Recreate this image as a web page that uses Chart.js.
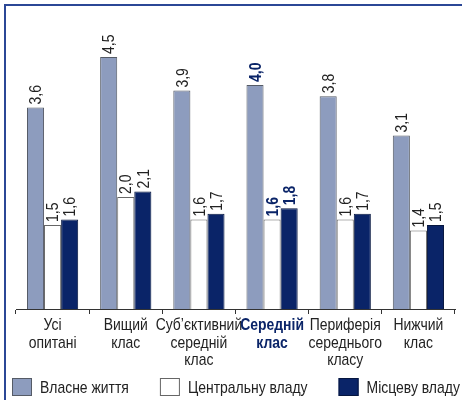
<!DOCTYPE html>
<html>
<head>
<meta charset="utf-8">
<script src="https://cdn.jsdelivr.net/npm/chart.js@4/dist/chart.umd.min.js"></script>
<style>
  html, body { margin: 0; padding: 0; background: #fff; }
</style>
</head>
<body>
<canvas id="barChart" width="462" height="400"></canvas>
<script>
// Категорії та значення
const categories = [
    ['Усі', 'опитані'],
    ['Вищий', 'клас'],
    ['Суб’єктивний', 'середній', 'клас'],
    ['Середній', 'клас'],
    ['Периферія', 'середнього', 'класу'],
    ['Нижчий', 'клас']
];
const seriesNames = ['Власне життя', 'Центральну владу', 'Місцеву владу'];
const ownLife = [3.6, 4.5, 3.9, 4.0, 3.8, 3.1];
const centralGov = [1.5, 2.0, 1.6, 1.6, 1.6, 1.4];
const localGov = [1.6, 2.1, 1.7, 1.8, 1.7, 1.5];
const highlight = 3; // "Середній клас" виділено

const FONT = "'Liberation Sans', Arial, sans-serif";
const NARROW = 0.82; // стиснення шрифту по ширині (як Helvetica Narrow)
const NAVY = '#0a2468';
const TEXT = '#222';

// рамка зверху і зліва
const framePlugin = {
    id: 'frame',
    beforeDraw(chart) {
        const c = chart.ctx;
        c.save();
        c.strokeStyle = '#2b4796';
        c.lineWidth = 2;
        c.beginPath();
        c.moveTo(5, chart.height);
        c.lineTo(5, 5);
        c.lineTo(chart.width, 5);
        c.stroke();
        c.restore();
    }
};

function narrowText(c, txt, x, y, align) {
    c.save();
    c.translate(x, y);
    c.scale(NARROW, 1);
    c.textAlign = align;
    c.fillText(txt, 0, 0);
    c.restore();
}

// підписи значень, повернуті вертикально
const valueLabels = {
    id: 'valueLabels',
    afterDatasetsDraw(chart) {
        const c = chart.ctx;
        chart.data.datasets.forEach((ds, di) => {
            chart.getDatasetMeta(di).data.forEach((bar, i) => {
                const txt = ds.data[i].toFixed(1).replace('.', ',');
                c.save();
                c.translate(bar.x + 1, bar.y - 3);
                c.rotate(-Math.PI / 2);
                c.textBaseline = 'middle';
                c.font = (i === highlight ? 'bold ' : '') + '17px ' + FONT;
                c.fillStyle = i === highlight ? NAVY : TEXT;
                narrowText(c, txt, 0, 0, 'left');
                c.restore();
            });
        });
    }
};

// підписи категорій під віссю
const categoryLabels = {
    id: 'categoryLabels',
    afterDraw(chart) {
        const c = chart.ctx;
        const xs = chart.scales.x;
        const top = chart.chartArea.bottom + 8;
        c.save();
        c.textBaseline = 'top';
        chart.data.labels.forEach((lines, i) => {
            const x = xs.getPixelForValue(i);
            c.font = (i === highlight ? 'bold ' : '') + '17px ' + FONT;
            c.fillStyle = i === highlight ? NAVY : TEXT;
            lines.forEach((ln, k) => narrowText(c, ln, x, top + k * 17.5, 'center'));
        });
        c.restore();
    }
};

// легенда знизу
const legendPlugin = {
    id: 'bottomLegend',
    afterDraw(chart) {
        const c = chart.ctx;
        let x = 12;
        const y = 378;
        c.save();
        c.font = '17px ' + FONT;
        c.textBaseline = 'middle';
        chart.data.datasets.forEach(ds => {
            c.fillStyle = ds.backgroundColor;
            c.fillRect(x, y, 20, 18);
            c.strokeStyle = ds.borderColor;
            c.lineWidth = 1;
            c.strokeRect(x + 0.5, y + 0.5, 19, 17);
            c.fillStyle = TEXT;
            narrowText(c, ds.label, x + 28, y + 10, 'left');
            x += 28 + c.measureText(ds.label).width * NARROW + 31;
        });
        c.restore();
    }
};

const ctx = document.getElementById('barChart').getContext('2d');
new Chart(ctx, {
    type: 'bar',
    data: {
        labels: categories,
        datasets: [
            { label: seriesNames[0], data: ownLife, backgroundColor: '#8d9cbe', borderColor: '#555b66', borderWidth: 1 },
            { label: seriesNames[1], data: centralGov, backgroundColor: '#ffffff', borderColor: '#666666', borderWidth: 1 },
            { label: seriesNames[2], data: localGov, backgroundColor: NAVY, borderColor: '#06163f', borderWidth: 1 }
        ]
    },
    options: {
        responsive: false,
        animation: false,
        layout: { padding: { left: 16, right: 7, top: 29, bottom: 86 } },
        datasets: { bar: { categoryPercentage: 0.7, barPercentage: 1.0 } },
        scales: {
            y: { display: false, min: 0, max: 5 },
            x: {
                grid: { offset: true, drawOnChartArea: false, drawTicks: true, tickLength: 5, color: '#333' },
                border: { color: '#333', width: 1 },
                ticks: { display: false }
            }
        },
        plugins: {
            legend: { display: false },
            tooltip: { enabled: false }
        }
    },
    plugins: [framePlugin, valueLabels, categoryLabels, legendPlugin]
});
</script>
</body>
</html>
